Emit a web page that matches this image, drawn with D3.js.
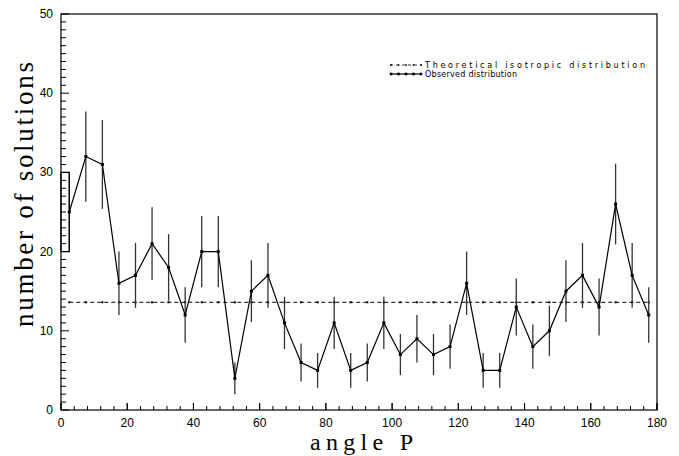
<!DOCTYPE html>
<html>
<head>
<meta charset="utf-8">
<script src="https://cdn.jsdelivr.net/npm/d3@7"></script>
<style>
  body { margin: 0; background: #fff; }
  svg { display: block; }
</style>
</head>
<body>
<div id="chart"></div>
<script>
// bin centres (degrees) and counts
const angles = [2.5, 7.5, 12.5, 17.5, 22.5, 27.5, 32.5, 37.5, 42.5, 47.5,
                52.5, 57.5, 62.5, 67.5, 72.5, 77.5, 82.5, 87.5, 92.5, 97.5,
                102.5, 107.5, 112.5, 117.5, 122.5, 127.5, 132.5, 137.5, 142.5, 147.5,
                152.5, 157.5, 162.5, 167.5, 172.5, 177.5];
const counts = [25, 32, 31, 16, 17, 21, 18, 12, 20, 20,
                4, 15, 17, 11, 6, 5, 11, 5, 6, 11,
                7, 9, 7, 8, 16, 5, 5, 13, 8, 10,
                15, 17, 13, 26, 17, 12];
const errors = [5.0, 5.7, 5.6, 4.0, 4.1, 4.6, 4.2, 3.5, 4.5, 4.5,
                2.0, 3.9, 4.1, 3.3, 2.4, 2.2, 3.3, 2.2, 2.4, 3.3,
                2.6, 3.0, 2.6, 2.8, 4.0, 2.2, 2.2, 3.6, 2.8, 3.2,
                3.9, 4.1, 3.6, 5.1, 4.1, 3.5];
const theoretical = 13.6;
const xTicks = [0, 20, 40, 60, 80, 100, 120, 140, 160, 180];
const yTicks = [0, 10, 20, 30, 40, 50];
const legendLabels = ["Theoretical isotropic distribution", "Observed distribution"];

const width = 679, height = 456;
const margin = { top: 14, right: 22, bottom: 46, left: 61 };

const svg = d3.select("#chart").append("svg")
    .attr("width", width)
    .attr("height", height);

const x = d3.scaleLinear().domain([0, 180]).range([margin.left, width - margin.right]);
const y = d3.scaleLinear().domain([0, 50]).range([height - margin.bottom, margin.top]);

const data = angles.map((a, i) => ({ a: a, n: counts[i], e: errors[i] }));

// frame
svg.append("rect")
    .attr("x", x(0)).attr("y", y(50))
    .attr("width", x(180) - x(0)).attr("height", y(0) - y(50))
    .attr("fill", "none").attr("stroke", "#000").attr("stroke-width", 1.2);

// y ticks (inside), minor every 1
svg.append("g").selectAll("line")
    .data(d3.range(0, 51))
    .enter().append("line")
    .attr("x1", x(0))
    .attr("x2", d => x(0) + (d % 10 === 0 ? 8 : 5))
    .attr("y1", d => y(d)).attr("y2", d => y(d))
    .attr("stroke", "#000").attr("stroke-width", 1);

// x ticks (inside), minor every 4
svg.append("g").selectAll("line")
    .data(d3.range(0, 181, 4).concat(xTicks))
    .enter().append("line")
    .attr("x1", d => x(d)).attr("x2", d => x(d))
    .attr("y1", y(0))
    .attr("y2", d => y(0) - (d % 20 === 0 ? 7 : 4))
    .attr("stroke", "#000").attr("stroke-width", 1);

// tick labels
svg.append("g").selectAll("text")
    .data(yTicks)
    .enter().append("text")
    .attr("x", x(0) - 8)
    .attr("y", d => y(d) + 4)
    .attr("text-anchor", "end")
    .style("font-family", "Liberation Sans, Arial, sans-serif")
    .style("font-size", "12px")
    .text(d => d);

svg.append("g").selectAll("text")
    .data(xTicks)
    .enter().append("text")
    .attr("x", d => x(d))
    .attr("y", y(0) + 17)
    .attr("text-anchor", "middle")
    .style("font-family", "Liberation Sans, Arial, sans-serif")
    .style("font-size", "12px")
    .text(d => d);

// axis titles
svg.append("text")
    .attr("x", 310).attr("y", 450)
    .attr("textLength", 103).attr("lengthAdjust", "spacing")
    .style("font-family", "Liberation Serif, Times New Roman, serif")
    .style("font-size", "24px")
    .text("angle P");

svg.append("text")
    .attr("transform", "translate(33,327) rotate(-90)")
    .attr("textLength", 265).attr("lengthAdjust", "spacing")
    .style("font-family", "Liberation Serif, Times New Roman, serif")
    .style("font-size", "27px")
    .text("number of solutions");

// theoretical level
svg.append("line")
    .attr("x1", x(angles[0])).attr("x2", x(angles[angles.length - 1]))
    .attr("y1", y(theoretical)).attr("y2", y(theoretical))
    .attr("stroke", "#000").attr("stroke-width", 1)
    .attr("stroke-dasharray", "4,3");

svg.append("g").selectAll("rect")
    .data(angles)
    .enter().append("rect")
    .attr("x", d => x(d) - 1).attr("y", y(theoretical) - 1)
    .attr("width", 2).attr("height", 2)
    .attr("fill", "#000");

// error bars
svg.append("g").selectAll("line")
    .data(data)
    .enter().append("line")
    .attr("x1", d => x(d.a)).attr("x2", d => x(d.a))
    .attr("y1", d => y(d.n - d.e)).attr("y2", d => y(d.n + d.e))
    .attr("stroke", "#333").attr("stroke-width", 1.3);

// first bin's bar is drawn out to the axis
svg.append("rect")
    .attr("x", x(0)).attr("y", y(data[0].n + data[0].e))
    .attr("width", x(data[0].a) - x(0))
    .attr("height", y(data[0].n - data[0].e) - y(data[0].n + data[0].e))
    .attr("fill", "none").attr("stroke", "#000").attr("stroke-width", 1.2);

// observed line + markers
const line = d3.line().x(d => x(d.a)).y(d => y(d.n));
svg.append("path")
    .datum(data)
    .attr("d", line)
    .attr("fill", "none").attr("stroke", "#000").attr("stroke-width", 1.2);

svg.append("g").selectAll("rect")
    .data(data)
    .enter().append("rect")
    .attr("x", d => x(d.a) - 1.5).attr("y", d => y(d.n) - 1.5)
    .attr("width", 3).attr("height", 3)
    .attr("fill", "#000");

// legend
const lx = 390, lw = 32;
const legendY = [65, 74];
const lg = svg.append("g");
lg.append("line")
    .attr("x1", lx).attr("x2", lx + lw).attr("y1", legendY[0]).attr("y2", legendY[0])
    .attr("stroke", "#000").attr("stroke-width", 0.8).attr("stroke-dasharray", "3,3");
lg.append("line")
    .attr("x1", lx).attr("x2", lx + lw).attr("y1", legendY[1]).attr("y2", legendY[1])
    .attr("stroke", "#000").attr("stroke-width", 1.2);
[0, 1].forEach(k => {
    lg.append("g").selectAll("rect")
        .data(d3.range(5))
        .enter().append("rect")
        .attr("x", i => lx + 1 + i * 7.5 - (k ? 1.3 : 0.8))
        .attr("y", legendY[k] - (k ? 1.3 : 0.8))
        .attr("width", k ? 2.6 : 1.6).attr("height", k ? 2.6 : 1.6)
        .attr("fill", "#000");
});
lg.selectAll("text")
    .data(legendLabels)
    .enter().append("text")
    .attr("x", lx + lw + 3)
    .attr("y", (d, i) => legendY[i] + 3)
    .attr("textLength", (d, i) => i === 0 ? 220 : 92)
    .attr("lengthAdjust", "spacing")
    .style("font-family", "DejaVu Sans, sans-serif")
    .style("font-size", "8px")
    .text(d => d);
</script>
</body>
</html>
